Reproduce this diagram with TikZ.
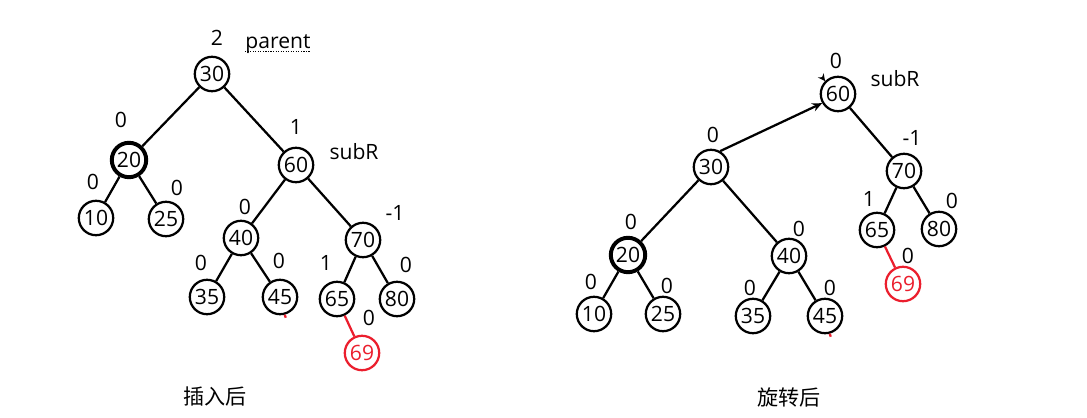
\documentclass[tikz,border=0pt]{standalone}
\usepackage{fontspec}
\setmainfont{Open Sans}
\newfontfamily\cjk{Noto Sans CJK SC}
\usetikzlibrary{arrows.meta,calc}
\definecolor{aRed}{RGB}{235,30,45}
\begin{document}
\begin{tikzpicture}[x=0.025cm,y=-0.025cm,font=\fontsize{15}{17}\selectfont,
  n/.style={circle,draw,line width=1.6pt,minimum size=0.86cm,inner sep=0pt},
  nt/.style={n,line width=2.8pt},
  nr/.style={n,draw=aRed,text=aRed},
  e/.style={line width=1.6pt},
  er/.style={e,draw=aRed}]
  \useasboundingbox (0,0) rectangle (1087,418);
  % before rotation
  \node[n]  (l30) at (212,74)  {30};
  \node[nt] (l20) at (129,160) {20};
  \node[n]  (l60) at (296,165) {60};
  \node[n]  (l10) at (96,218)  {10};
  \node[n]  (l25) at (166,219) {25};
  \node[n]  (l40) at (241,238) {40};
  \node[n]  (l70) at (363,240) {70};
  \node[n]  (l35) at (207,297) {35};
  \node[n]  (l45) at (280,297) {45};
  \node[n]  (l65) at (337,299) {65};
  \node[n]  (l80) at (397,299) {80};
  \node[nr] (l69) at (362,353) {69};
  \draw[e] (l30) -- (l20); \draw[e] (l30) -- (l60);
  \draw[e] (l20) -- (l10); \draw[e] (l20) -- (l25);
  \draw[e] (l60) -- (l40); \draw[e] (l60) -- (l70);
  \draw[e] (l40) -- (l35); \draw[e] (l40) -- (l45);
  \draw[e] (l70) -- (l65); \draw[e] (l70) -- (l80);
  \draw[er] (l65) -- (l69);
  \draw[er] (l45.-75) -- ++(1,3);
  \node (lb30) at (217,38) {2};
  \node[inner sep=0pt] (par) at (278,44) {parent};
  \draw[densely dotted,line width=0.8pt] ($(par.base west)+(0,3)$) -- ($(par.base east)+(0,3)$);
  \node (lb20) at (121,120) {0};
  \node (lb60) at (296,127) {1};
  \node (ls1)  at (354,152) {subR};
  \node (lb10) at (93,182)  {0};
  \node (lb25) at (177,188) {0};
  \node (lb40) at (245,207) {0};
  \node (lb70) at (395,213) {-1};
  \node (lb35) at (201,263) {0};
  \node (lb45) at (279,261) {0};
  \node (lb65) at (326,263) {1};
  \node (lb80) at (406,265) {0};
  \node (lb69) at (369,318) {0};
  \node (cap1) at (215,397) {\cjk 插入后};
  % after rotation
  \node[n]  (r60) at (838,94)  {60};
  \node[n]  (r30) at (711,167) {30};
  \node[n]  (r70) at (904,171) {70};
  \node[n]  (r65) at (877,230) {65};
  \node[n]  (r80) at (939,229) {80};
  \node[nr] (r69) at (903,284) {69};
  \node[nt] (r20) at (628,255) {20};
  \node[n]  (r40) at (789,256) {40};
  \node[n]  (r10) at (594,314) {10};
  \node[n]  (r25) at (663,314) {25};
  \node[n]  (r35) at (753,316) {35};
  \node[n]  (r45) at (825,316) {45};
  \draw[e,-{Stealth[length=7pt,width=6pt]}] (r30.60) -- (r60.210);
  \draw[e] (r60) -- (r70);
  \draw[e] (r30) -- (r20); \draw[e] (r30) -- (r40);
  \draw[e] (r20) -- (r10); \draw[e] (r20) -- (r25);
  \draw[e] (r40) -- (r35); \draw[e] (r40) -- (r45);
  \draw[e] (r70) -- (r65); \draw[e] (r70) -- (r80);
  \draw[er] (r65) -- (r69);
  \draw[er] (r45.-75) -- ++(1,3);
  \draw[e,-{Stealth[length=5pt,width=5pt]}] ($(r60.135)+(-3,-4)$) -- (r60.135);
  \node (rb60) at (836,61)  {0};
  \node (rs1)  at (895,79)  {subR};
  \node (rb30) at (713,135) {0};
  \node (rb70) at (912,138) {-1};
  \node (rb65) at (869,199) {1};
  \node (rb80) at (952,201) {0};
  \node (rb69) at (908,256) {0};
  \node (rb20) at (631,222) {0};
  \node (rb40) at (799,229) {0};
  \node (rb10) at (591,282) {0};
  \node (rb25) at (667,286) {0};
  \node (rb35) at (750,288) {0};
  \node (rb45) at (830,288) {0};
  \node (cap2) at (789,397) {\cjk 旋转后};
\end{tikzpicture}
\end{document}
